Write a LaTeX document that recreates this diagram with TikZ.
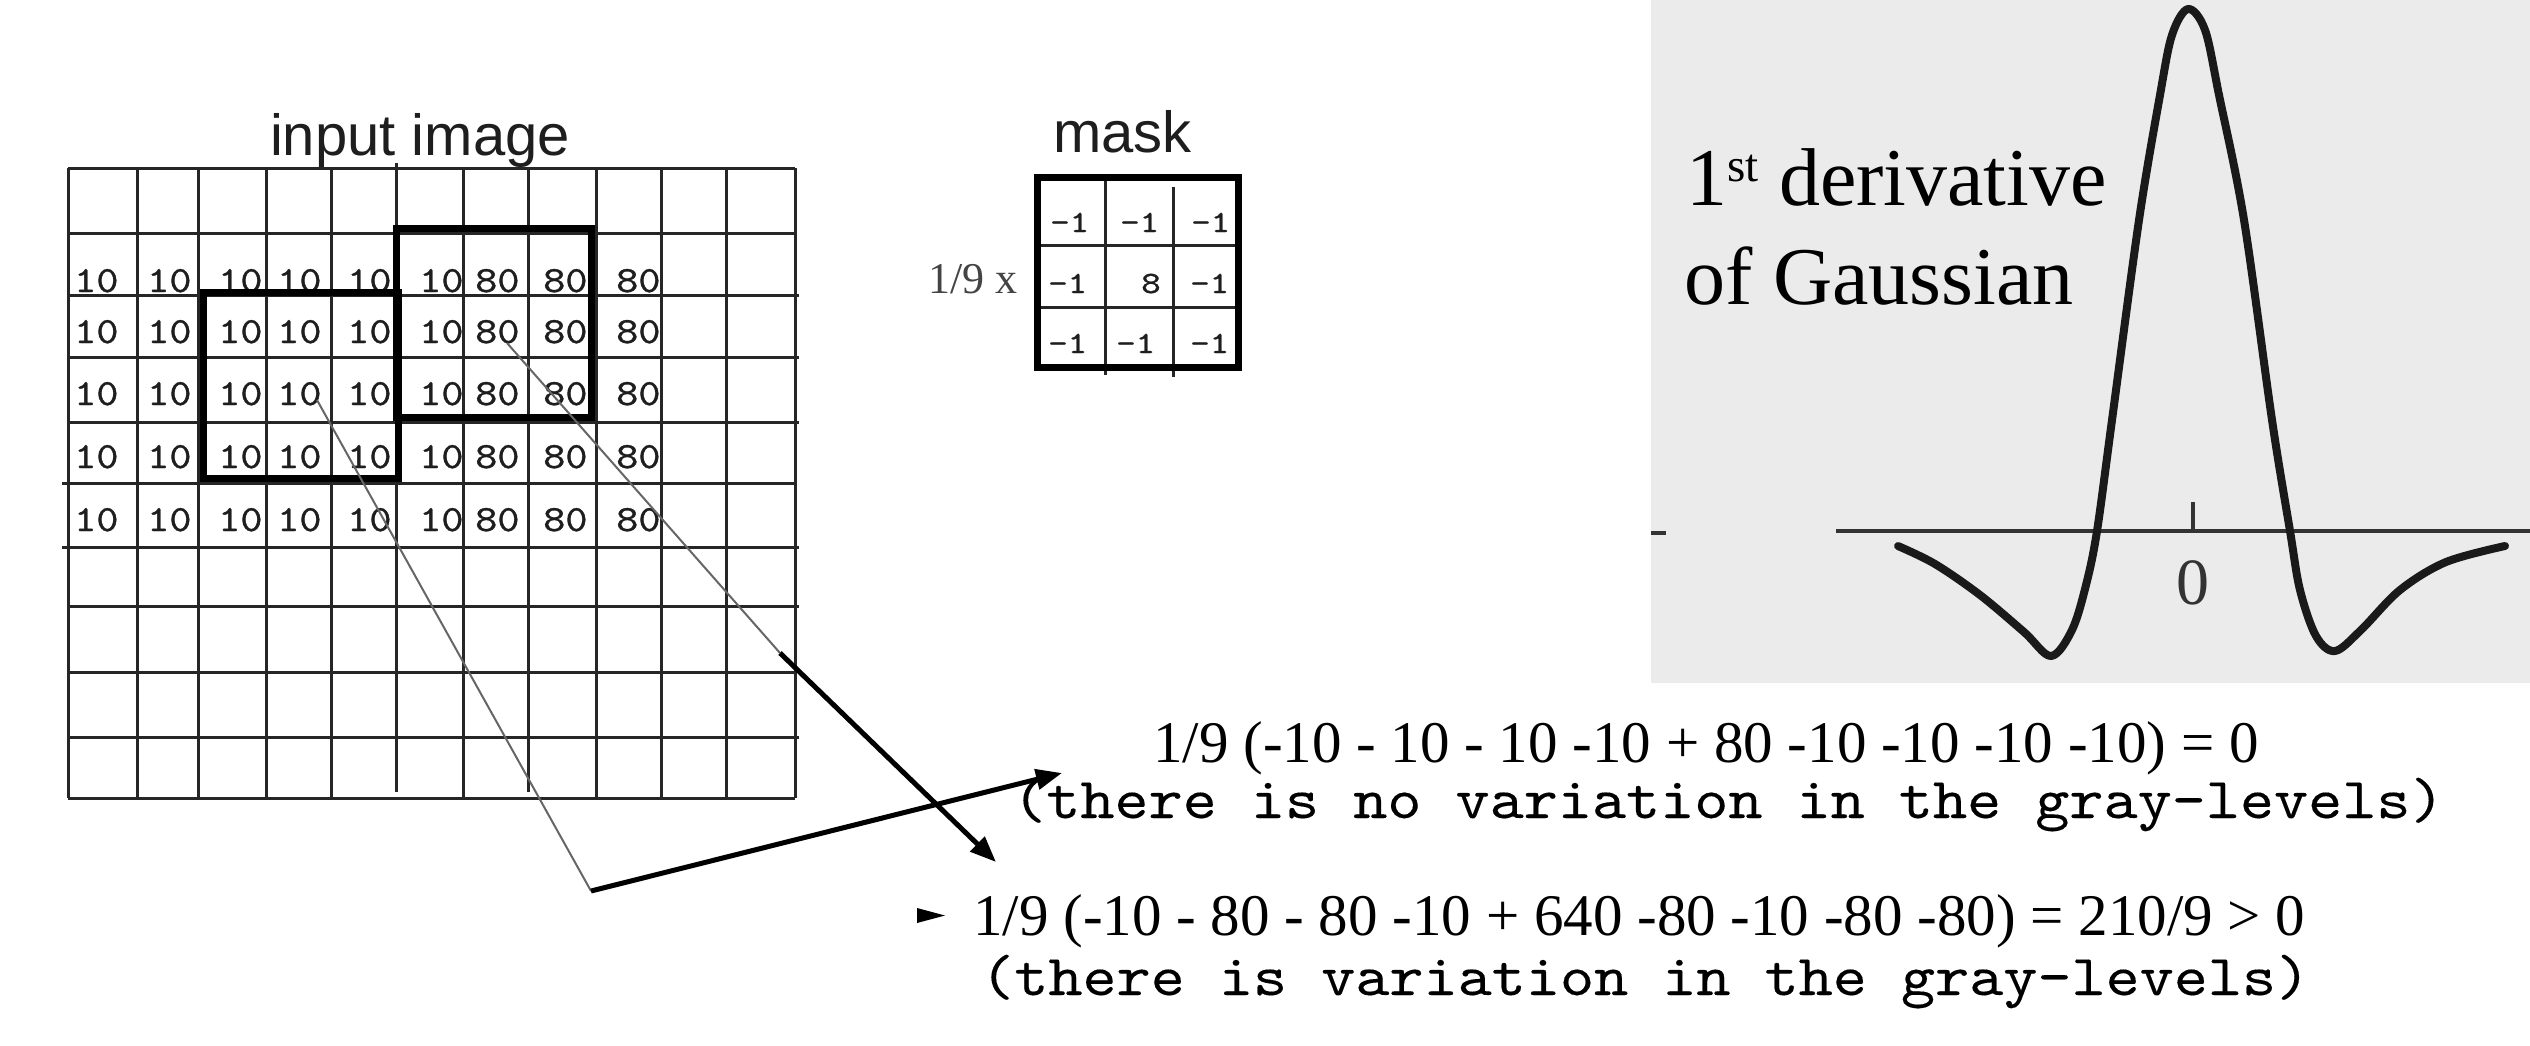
\documentclass[tikz,border=0pt]{standalone}
\usepackage{graphicx}
\usepackage{fontspec}
\setmainfont{Liberation Serif}
\setsansfont{Liberation Sans}
\newfontfamily\courfont{lmmono10-regular.otf}[FakeBold=0.2]
\newfontfamily\courgrid{lmmono10-regular.otf}[FakeBold=0.8]
\usetikzlibrary{arrows.meta}
\definecolor{panelbg}{HTML}{EBEBEB}
\definecolor{darkink}{HTML}{1E1E1E}
\definecolor{midink}{HTML}{444444}
\definecolor{curveink}{HTML}{1A1A1A}
\newcommand\widett[2]{\scalebox{#1}[1]{#2}}
\tikzset{
  gridline/.style={line width=3pt, draw=black!85},
  thickbox/.style={line width=7pt, draw=black},
  thinleader/.style={line width=2pt, draw=black!60},
  bigarrow/.style={line width=5pt, draw=black, -{Triangle[length=26pt,width=20pt]}},
  gridnum/.style={anchor=base west, inner sep=0pt, font=\courgrid\fontsize{37}{37}\selectfont, text=darkink},
  masknum/.style={anchor=base west, inner sep=0pt, font=\courgrid\fontsize{31}{31}\selectfont, text=darkink},
  eqtext/.style={anchor=base west, inner sep=0pt, font=\fontsize{59}{59}\selectfont},
  monotext/.style={anchor=base west, inner sep=0pt, font=\courfont\fontsize{58}{58}\selectfont},
  sanslabel/.style={inner sep=0pt, font=\sffamily\fontsize{58}{58}\selectfont, text=darkink},
  curveline/.style={line width=8pt, draw=curveink, line cap=round, line join=round},
  axisline/.style={line width=4.5pt, draw=black!80},
}
\begin{document}
\begin{tikzpicture}[x=1pt,y=-1pt]
\useasboundingbox (0,0) rectangle (2530,1045);
\fill[white] (0,0) rectangle (2530,1045);

% ---------- Gaussian panel ----------
\fill[panelbg] (1651,0) rectangle (2530,683);
\draw[axisline] (1651,533) -- (1666,533);
\draw[axisline] (1836,531) -- (2530,531);
\draw[axisline] (2193,502) -- (2193,531);
\node[anchor=base, inner sep=0pt, text=black!80, font=\fontsize{66}{66}\selectfont] (zero) at (2193,604) {0};
\draw[curveline] plot[smooth, tension=0.55] coordinates {
  (1898,546) (1935,564) (1980,595) (2024,632) (2051,656) (2072,630) (2086,585)
  (2097,531) (2112,420) (2139,220) (2160,95) (2172,35) (2188,9) (2205,30)
  (2219,95) (2244,220) (2272,420) (2290,531) (2300,590) (2316,636) (2335,651)
  (2361,630) (2400,590) (2446,562) (2505,546)};
\node[anchor=base west, inner sep=0pt, font=\fontsize{82}{82}\selectfont] (dlab1) at (1686,205)
  {1\raisebox{24pt}{\fontsize{47}{47}\selectfont st} derivative};
\node[anchor=base west, inner sep=0pt, font=\fontsize{82}{82}\selectfont] (dlab2) at (1684,304)
  {of Gaussian};

% ---------- input image grid ----------
\node[sanslabel, anchor=base] (inlabel) at (420,155) {input image};
\foreach \y/\xa/\xb in {168/68/795, 233/68/795, 295/68/799, 357/68/799, 422/68/799,
                       483/62/795, 547/62/799, 606/68/799, 672/68/795, 737/68/799, 798/68/795}
  \draw[gridline] (\xa,\y) -- (\xb,\y);
\foreach \x/\ya/\yb in {68/168/798, 137/168/798, 198/168/798, 266/168/798, 331/168/798,
                       396/163/792, 463/168/798, 528/168/792, 596/168/798, 661/168/798,
                       726/168/798, 795/168/798}
  \draw[gridline] (\x,\ya) -- (\x,\yb);

\foreach \yb [count=\r] in {292,343,405,468,531}
  \foreach \xl/\v [count=\c] in {74/10,147/10,218/10,277/10,347/10,419/10,475/80,543/80,616/80}
    \node[gridnum] (n-\r-\c) at (\xl,\yb) {\widett{1.14}{\v}};

% thick windows
\draw[thickbox] (203,292) rectangle (398,478);
\draw[thickbox] (396,228) rectangle (591,417);

% ---------- mask ----------
\node[sanslabel, anchor=base west] (masklabel) at (1053,152) {mask};
\draw[gridline] (1035,245) -- (1240,245);
\draw[gridline] (1035,307) -- (1240,307);
\draw[gridline] (1105,178) -- (1105,375);
\draw[gridline] (1173,187) -- (1173,377);
\draw[thickbox] (1037,177) rectangle (1238,367);
\foreach \xl/\yb/\v [count=\k] in {1050/232/-1, 1120/232/-1, 1191/232/-1,
                                   1048/293/-1, 1141/293/8, 1190/293/-1,
                                   1048/353/-1, 1116/353/-1, 1190/353/-1}
  \node[masknum] (m\k) at (\xl,\yb) {\widett{1.2}{\v}};
\node[anchor=base west, inner sep=0pt, text=midink, font=\fontsize{44}{44}\selectfont] (scale) at (928,293) {1/9 x};

% ---------- leaders and arrows ----------
\coordinate (cA) at (317,400);
\coordinate (cB) at (507,343);
\coordinate (kA) at (591,891);
\coordinate (kB) at (780,653);
\coordinate (tA) at (1062,773);
\coordinate (tB) at (996,862);
\draw[thinleader] (cA) -- (kA);
\draw[thinleader] (cB) -- (kB);
\draw[bigarrow] (kA) -- (tA);
\draw[bigarrow] (kB) -- (tB);

% ---------- equations ----------
\node[eqtext] (eq1) at (1153,762) {1/9 (-10 - 10 - 10 -10 + 80 -10 -10 -10 -10) = 0};
\node[monotext] (eq2) at (1012,818) {\widett{1.12}{(there is no variation in the gray-levels)}};
\fill (917,908) -- (945,915.5) -- (917,923) -- cycle;
\node[eqtext] (eq3) at (973,935) {1/9 (-10 - 80 - 80 -10 + 640 -80 -10 -80 -80) = 210/9 > 0};
\node[monotext] (eq4) at (980,995) {\widett{1.12}{(there is variation in the gray-levels)}};
\end{tikzpicture}
\end{document}
